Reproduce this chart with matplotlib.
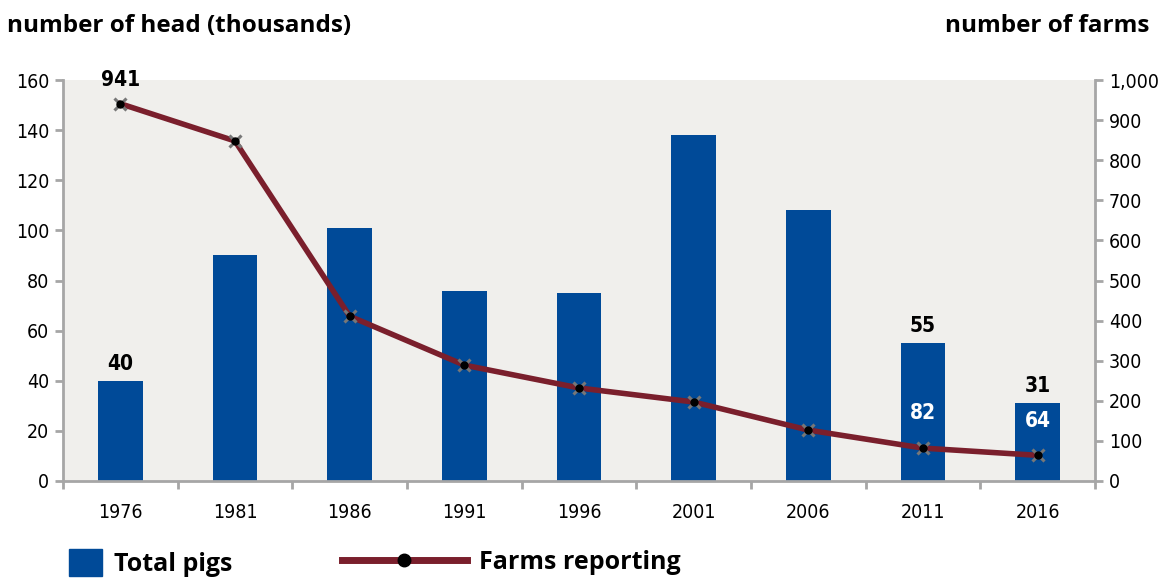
import matplotlib
matplotlib.use("Agg")
import matplotlib.pyplot as plt
from matplotlib.patches import Patch
from matplotlib.lines import Line2D
from matplotlib.ticker import FuncFormatter, MultipleLocator

# --- donnees ---
annees = ["1976", "1981", "1986", "1991", "1996", "2001", "2006", "2011", "2016"]
porcs = [40, 90, 101, 76, 75, 138, 108, 55, 31]          # milliers de tetes
fermes = [941, 848, 411, 289, 232, 197, 127, 82, 64]     # fermes declarantes

bleu = "#004a98"
bordeaux = "#7a1f2c"
gris = "#a6a6a6"
fond = "#f0efec"
narrow = dict(fontfamily="DejaVu Sans", fontstretch="condensed")
bold = ["Open Sans", "DejaVu Sans"]

fig = plt.figure(figsize=(11.6, 5.8), dpi=100)
ax = fig.add_axes([0.0543, 0.1707, 0.8897, 0.6913])
ax.set_facecolor(fond)
ax2 = ax.twinx()

x = list(range(len(annees)))
ax.bar(x, porcs, width=0.39, color=bleu, zorder=2)
ax.set_xlim(-0.5, len(annees) - 0.5)
ax.set_ylim(0, 160)
ax.yaxis.set_major_locator(MultipleLocator(20))

ax2.plot(x, fermes, color=bordeaux, lw=4, zorder=3)
ax2.plot(x, fermes, ls="none", marker="x", ms=9, mew=2.2, color="#777777", zorder=4)
ax2.plot(x, fermes, ls="none", marker="o", ms=5, color="black", zorder=5)
ax2.set_ylim(0, 1000)
ax2.yaxis.set_major_locator(MultipleLocator(100))
ax2.yaxis.set_major_formatter(FuncFormatter(lambda v, p: f"{int(v):,}"))

# axes et graduations
for a in (ax, ax2):
    a.spines["top"].set_visible(False)
    for s in ("left", "right", "bottom"):
        a.spines[s].set_color(gris)
        a.spines[s].set_linewidth(2)
ax2.spines["left"].set_visible(False)
ax2.spines["bottom"].set_visible(False)
ax.spines["right"].set_visible(False)

ax.set_xticks(x)
ax.set_xticklabels(annees, fontsize=14, **narrow)
ax.set_xticks([i - 0.5 for i in range(len(annees) + 1)], minor=True)
ax.tick_params(axis="x", which="major", length=0, pad=16)
ax.tick_params(axis="x", which="minor", length=6, width=2, color=gris, direction="out")
ax.tick_params(axis="y", length=6, width=2, color=gris, labelsize=14, pad=4)
ax2.tick_params(axis="y", length=6, width=2, color=gris, labelsize=14, pad=4)
for lab in ax.get_yticklabels() + ax2.get_yticklabels():
    lab.set_fontfamily("DejaVu Sans")
    lab.set_fontstretch("condensed")

# etiquettes de valeurs
ax2.annotate(f"{fermes[0]}", (x[0], fermes[0]), xytext=(0, 10), textcoords="offset points",
             ha="center", va="bottom", fontsize=15, fontweight="bold", **narrow)
for i in (0, 7, 8):
    ax.annotate(f"{porcs[i]}", (x[i], porcs[i]), xytext=(0, 5), textcoords="offset points",
                ha="center", va="bottom", fontsize=15, fontweight="bold", **narrow)
for i in (7, 8):
    ax2.annotate(f"{fermes[i]}", (x[i], fermes[i]), xytext=(0, 25), textcoords="offset points",
                 ha="center", va="center", fontsize=15, fontweight="bold", color="white",
                 zorder=6, **narrow)

# titres des axes
fig.text(0.006, 0.955, "number of head (thousands)", fontsize=17.5, fontweight="bold",
         fontfamily=bold, ha="left", va="center")
fig.text(0.991, 0.955, "number of farms", fontsize=17.5, fontweight="bold",
         fontfamily=bold, ha="right", va="center")

# legendes
fig.legend(handles=[Patch(color=bleu, label="Total pigs")], loc="center left",
           bbox_to_anchor=(0.0405, 0.03), frameon=False, handlelength=1.32,
           handleheight=1.28, handletextpad=0.48,
           prop={"size": 18, "weight": "bold", "family": bold})
fig.legend(handles=[Line2D([], [], color=bordeaux, lw=5, marker="o", ms=9,
                           mfc="black", mec="black", label="Farms reporting")],
           loc="center left", bbox_to_anchor=(0.275, 0.03), frameon=False,
           handlelength=5.0, handletextpad=0.5,
           prop={"size": 18, "weight": "bold", "family": bold})

fig.savefig("out.png", dpi=100, facecolor="white")
